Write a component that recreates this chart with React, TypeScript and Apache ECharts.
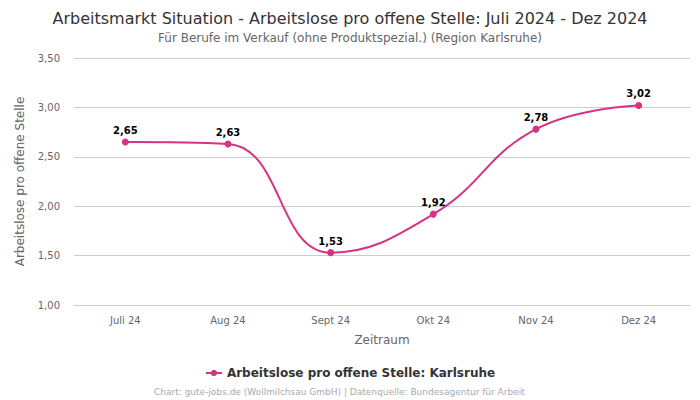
import React, { useEffect, useRef } from "react";
import * as echarts from "echarts";

const categories = ["Juli 24", "Aug 24", "Sept 24", "Okt 24", "Nov 24", "Dez 24"];
const values = [2.65, 2.63, 1.53, 1.92, 2.78, 3.02];
const seriesName = "Arbeitslose pro offene Stelle: Karlsruhe";

const fmt = (v: number) => v.toFixed(2).replace(".", ",");

export default function App() {
  const ref = useRef<HTMLDivElement>(null);
  useEffect(() => {
    const chart = echarts.init(ref.current!, null, { renderer: "svg" });
    const font = "DejaVu Sans";
    chart.setOption({
      animation: false,
      backgroundColor: "#fff",
      textStyle: { fontFamily: font },
      title: [
        {
          text: "Arbeitsmarkt Situation - Arbeitslose pro offene Stelle: Juli 2024 - Dez 2024",
          left: "center",
          top: 5,
          textStyle: { fontSize: 16, fontWeight: "normal", color: "#333", fontFamily: font },
        },
        {
          text: "Für Berufe im Verkauf (ohne Produktspezial.) (Region Karlsruhe)",
          left: "center",
          top: 27,
          textStyle: { fontSize: 12, fontWeight: "normal", color: "#666", fontFamily: font },
        },
        {
          text: "Chart: gute-jobs.de (Wollmilchsau GmbH) | Datenquelle: Bundesagentur für Arbeit",
          left: 149,
          top: 382,
          textStyle: { fontSize: 9, fontWeight: "normal", color: "#aaa", fontFamily: font },
        },
      ],
      legend: {
        bottom: 16,
        left: "center",
        itemWidth: 16,
        itemHeight: 8,
        textStyle: { fontSize: 12, fontWeight: "bold", color: "#333", fontFamily: font },
        data: [seriesName],
      },
      grid: { left: 74, right: 10, top: 58, bottom: 95 },
      xAxis: {
        type: "category",
        data: categories,
        boundaryGap: true,
        name: "Zeitraum",
        nameLocation: "middle",
        nameGap: 29,
        nameTextStyle: { fontSize: 12, color: "#666" },
        axisLine: { lineStyle: { color: "#ccc" } },
        axisTick: { show: false },
        axisLabel: { fontSize: 10, color: "#666", margin: 10 },
      },
      yAxis: {
        type: "value",
        min: 1,
        max: 3.5,
        interval: 0.5,
        name: "Arbeitslose pro offene Stelle",
        nameLocation: "middle",
        nameGap: 48,
        nameTextStyle: { fontSize: 12, color: "#666" },
        axisLine: { show: false },
        axisTick: { show: false },
        axisLabel: { fontSize: 10, color: "#666", formatter: (v: number) => fmt(v), margin: 14 },
        splitLine: { lineStyle: { color: "#ccc" } },
      },
      series: [
        {
          name: seriesName,
          type: "line",
          data: values,
          smooth: 0.45,
          symbol: "circle",
          symbolSize: 7,
          color: "#d63384",
          lineStyle: { width: 2, color: "#d63384" },
          itemStyle: { color: "#d63384" },
          label: {
            show: true,
            position: "top",
            distance: 3,
            fontSize: 10,
            fontWeight: "bold",
            color: "#000",
            formatter: (p: any) => fmt(p.value),
          },
        },
      ],
    });
    return () => chart.dispose();
  }, []);
  return (
    <div
      ref={ref}
      style={{ position: "fixed", left: 0, top: 0, width: 700, height: 400 }}
    />
  );
}
